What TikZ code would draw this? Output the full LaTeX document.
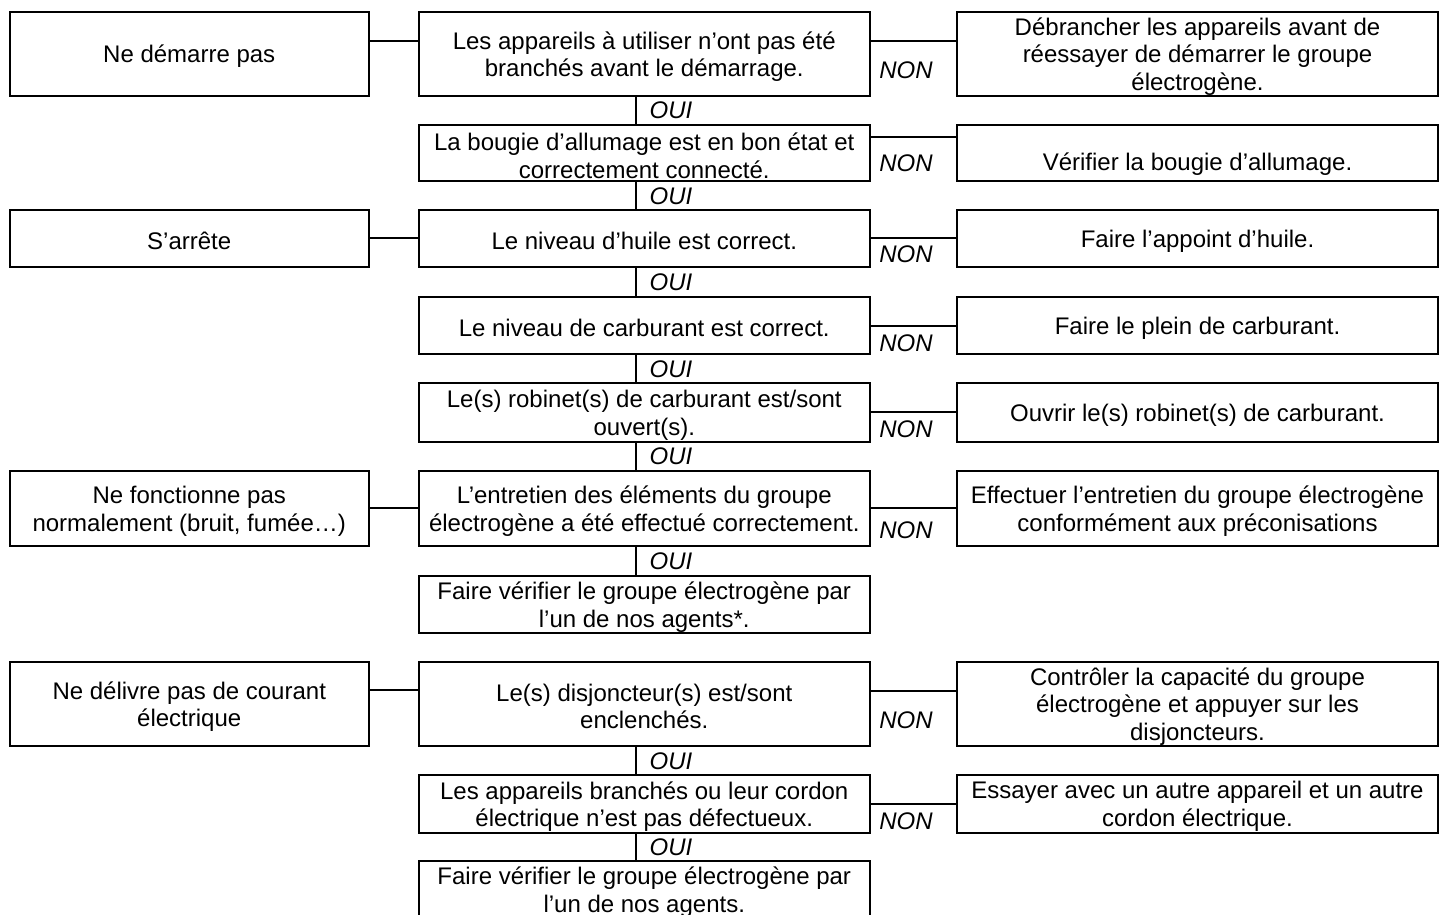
\documentclass[tikz,border=0pt]{standalone}
\usepackage{fontspec}
\setmainfont{Liberation Sans}
\newcommand\bx[7][-1.25pt]{%
  \node[box, minimum width={(#5-#3)*0.5pt}, minimum height={(#6-#4)*0.5pt}]
    (#2) at ({(#3+#5)/2},{(#4+#6)/2}) {};
  \node[boxtext, yshift=#1] (#2-t) at (#2.center) {#7};}
\begin{document}
\begin{tikzpicture}[x=0.5pt,y=-0.5pt,line width=1pt,
  box/.style={draw, line width=1pt, inner sep=0pt, outer sep=0pt},
  boxtext/.style={inner sep=0pt, align=center, font=\fontsize{12}{13.8}\selectfont},
  yes/.style={font=\fontsize{12}{13.8}\selectfont\itshape, inner sep=0pt},
  no/.style={font=\fontsize{12}{13.8}\selectfont\itshape, inner sep=0pt},
  wire/.style={draw, line width=1pt}]
\useasboundingbox (0,0) rectangle (1440,915);
\clip (0,0) rectangle (1440,915);
% column x: left 9.5-369, middle 418.5-870, right 957-1438
% row 1
\bx{L1}{9.5}{12}{369}{96}{Ne démarre pas}
\bx{M1}{418.5}{12}{870}{96}{Les appareils à utiliser n’ont pas été\\branchés avant le démarrage.}
\bx{R1}{957}{12}{1438}{96}{Débrancher les appareils avant de\\réessayer de démarrer le groupe\\électrogène.}
% row 2
\bx{M2}{418.5}{125}{870}{181}{La bougie d’allumage est en bon état et\\correctement connecté.}
\bx[-5.5pt]{R2}{957}{125}{1438}{181}{Vérifier la bougie d’allumage.}
% row 3
\bx{L3}{9.5}{210}{369}{267}{S’arrête}
\bx{M3}{418.5}{210}{870}{267}{Le niveau d’huile est correct.}
\bx{R3}{957}{210}{1438}{267}{Faire l’appoint d’huile.}
% row 4
\bx{M4}{418.5}{297}{870}{354}{Le niveau de carburant est correct.}
\bx{R4}{957}{297}{1438}{354}{Faire le plein de carburant.}
% row 5
\bx{M5}{418.5}{383}{870}{442}{Le(s) robinet(s) de carburant est/sont\\ouvert(s).}
\bx{R5}{957}{383}{1438}{442}{Ouvrir le(s) robinet(s) de carburant.}
% row 6
\bx{L6}{9.5}{471}{369}{546}{Ne fonctionne pas\\normalement (bruit, fumée…)}
\bx{M6}{418.5}{471}{870}{546}{L’entretien des éléments du groupe\\électrogène a été effectué correctement.}
\bx{R6}{957}{471}{1438}{546}{Effectuer l’entretien du groupe électrogène\\conformément aux préconisations}
% row 7
\bx{M7}{418.5}{576}{870}{633}{Faire vérifier le groupe électrogène par\\l’un de nos agents*.}
% row 8
\bx{L8}{9.5}{662}{369}{746}{Ne délivre pas de courant\\électrique}
\bx{M8}{418.5}{662}{870}{746}{Le(s) disjoncteur(s) est/sont\\enclenchés.}
\bx{R8}{957}{662}{1438}{746}{Contrôler la capacité du groupe\\électrogène et appuyer sur les\\disjoncteurs.}
% row 9
\bx{M9}{418.5}{775}{870}{833}{Les appareils branchés ou leur cordon\\électrique n’est pas défectueux.}
\bx{R9}{957}{775}{1438}{833}{Essayer avec un autre appareil et un autre\\cordon électrique.}
% row 10
\bx{M10}{418.5}{861}{870}{918}{Faire vérifier le groupe électrogène par\\l’un de nos agents.}

% left-to-middle connectors
\draw[wire] (L1.east |- 0,41) -- (M1.west |- 0,41);
\draw[wire] (L3.east |- 0,238) -- (M3.west |- 0,238);
\draw[wire] (L6.east |- 0,508) -- (M6.west |- 0,508);
\draw[wire] (L8.east |- 0,690) -- (M8.west |- 0,690);

% middle-to-right connectors (NON)
\draw[wire] (M1.east |- 0,41) -- (R1.west |- 0,41);
\draw[wire] (M2.east |- 0,137) -- (R2.west |- 0,137);
\draw[wire] (M3.east |- 0,238) -- (R3.west |- 0,238);
\draw[wire] (M4.east |- 0,326) -- (R4.west |- 0,326);
\draw[wire] (M5.east |- 0,412) -- (R5.west |- 0,412);
\draw[wire] (M6.east |- 0,508) -- (R6.west |- 0,508);
\draw[wire] (M8.east |- 0,691) -- (R8.west |- 0,691);
\draw[wire] (M9.east |- 0,804) -- (R9.west |- 0,804);

\node[no] (n1) at (906,70) {NON};
\node[no] (n2) at (906,163) {NON};
\node[no] (n3) at (906,254) {NON};
\node[no] (n4) at (906,343) {NON};
\node[no] (n5) at (906,429) {NON};
\node[no] (n6) at (906,530) {NON};
\node[no] (n8) at (906,720) {NON};
\node[no] (n9) at (906,821) {NON};

% vertical OUI connectors
\draw[wire] (636,0 |- M1.south) -- (636,0 |- M2.north);
\draw[wire] (636,0 |- M2.south) -- (636,0 |- M3.north);
\draw[wire] (636,0 |- M3.south) -- (636,0 |- M4.north);
\draw[wire] (636,0 |- M4.south) -- (636,0 |- M5.north);
\draw[wire] (636,0 |- M5.south) -- (636,0 |- M6.north);
\draw[wire] (636,0 |- M6.south) -- (636,0 |- M7.north);
\draw[wire] (636,0 |- M8.south) -- (636,0 |- M9.north);
\draw[wire] (636,0 |- M9.south) -- (636,0 |- M10.north);

\node[yes] (o1) at (671,110) {OUI};
\node[yes] (o2) at (671,196) {OUI};
\node[yes] (o3) at (671,282) {OUI};
\node[yes] (o4) at (671,369) {OUI};
\node[yes] (o5) at (671,456) {OUI};
\node[yes] (o6) at (671,561) {OUI};
\node[yes] (o8) at (671,761) {OUI};
\node[yes] (o9) at (671,847) {OUI};
\end{tikzpicture}
\end{document}
